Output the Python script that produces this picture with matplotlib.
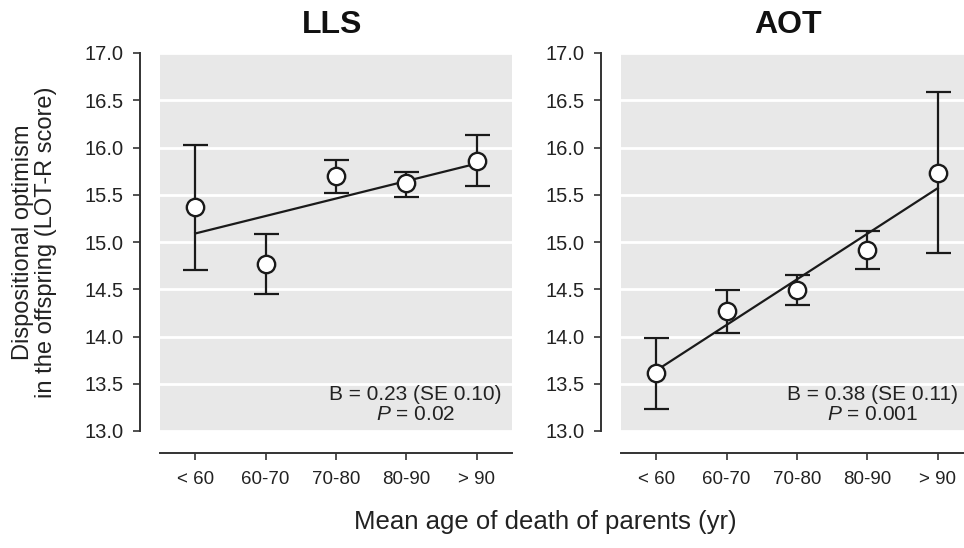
import matplotlib
matplotlib.use('Agg')
from matplotlib import pyplot as plt
import numpy as np

plt.rcParams['font.family'] = ['Liberation Sans', 'DejaVu Sans']
plt.rcParams['mathtext.fontset'] = 'custom'
plt.rcParams['mathtext.rm'] = 'Liberation Sans'
plt.rcParams['mathtext.it'] = 'Liberation Sans:italic'

# categories
age_groups = ['< 60', '60-70', '70-80', '80-90', '> 90']

# LLS panel
lls_mean = [15.37, 14.77, 15.70, 15.62, 15.86]
lls_low = [14.70, 14.45, 15.52, 15.48, 15.59]
lls_high = [16.03, 15.08, 15.87, 15.74, 16.13]
lls_fit = [15.09, 15.83]

# AOT panel
aot_mean = [13.61, 14.27, 14.49, 14.92, 15.73]
aot_low = [13.23, 14.04, 14.33, 14.71, 14.88]
aot_high = [13.98, 14.49, 14.65, 15.12, 16.59]
aot_fit = [13.64, 15.57]

panels = [
    ('LLS', lls_mean, lls_low, lls_high, lls_fit, 'B = 0.23 (SE 0.10)\n$P$ = 0.02', 3.13),
    ('AOT', aot_mean, aot_low, aot_high, aot_fit, 'B = 0.38 (SE 0.11)\n$P$ = 0.001', 3.07),
]

fig = plt.figure(figsize=(9.64, 5.48), dpi=100)
lefts = [160 / 964, 621 / 964]
dark = '#1a1a1a'

for left, (name, mean, low, high, fit, note, note_x) in zip(lefts, panels):
    ax = fig.add_axes([left, 117 / 548, 352 / 964, 378 / 548])
    ax.set_facecolor('#e8e8e8')
    x = np.arange(len(age_groups))
    mean = np.array(mean)
    yerr = [mean - np.array(low), np.array(high) - mean]

    # error bars under the fitted line, open circles on top
    ax.errorbar(x, mean, yerr=yerr, fmt='none', ecolor=dark, elinewidth=1.6,
                capsize=9, capthick=1.6, zorder=3)
    ax.plot([x[0], x[-1]], fit, color=dark, lw=1.6, zorder=4)
    ax.plot(x, mean, 'o', ms=12.5, mfc='white', mec=dark, mew=1.7, zorder=5)

    ax.set_xlim(-0.5, 4.5)
    ax.set_ylim(13.0, 17.0)
    ticks = np.arange(13.0, 17.01, 0.5)
    ax.set_yticks(ticks)
    ax.set_yticklabels(['%.1f' % v for v in ticks])
    ax.set_xticks(x)
    ax.set_xticklabels(age_groups)
    ax.yaxis.grid(True, color='white', lw=2)
    ax.set_axisbelow(True)

    for s in ['top', 'right']:
        ax.spines[s].set_visible(False)
    ax.spines['left'].set_position(('outward', 14.4))
    ax.spines['bottom'].set_position(('outward', 15.8))
    for s in ['left', 'bottom']:
        ax.spines[s].set_color('#333333')
        ax.spines[s].set_linewidth(1.4)
    ax.tick_params(axis='y', length=5, width=1.2, color='#333333', labelsize=14.5,
                   pad=7, labelcolor='#222222')
    ax.tick_params(axis='x', length=5, width=1.2, color='#333333', labelsize=13.5,
                   pad=8, labelcolor='#222222')

    ax.text(note_x, 13.28, note, ha='center', va='center', multialignment='center',
            fontsize=15, color='#222222', linespacing=1.1)

    if name == 'LLS':
        ax.set_ylabel('Dispositional optimism\nin the offspring (LOT-R score)',
                      fontsize=17, color='#222222', linespacing=1.05)
        ax.yaxis.set_label_coords(-0.292, 0.5)

fig.text(332 / 964, 1 - 25 / 548, 'LLS', ha='center', va='center', fontsize=23,
         fontweight='bold', color='#111111')
fig.text(788 / 964, 1 - 25 / 548, 'AOT', ha='center', va='center', fontsize=23,
         fontweight='bold', color='#111111')
fig.text(545 / 964, 1 - 522 / 548, 'Mean age of death of parents (yr)', ha='center',
         va='center', fontsize=18.5, color='#222222')

fig.savefig('out.png', dpi=100)
